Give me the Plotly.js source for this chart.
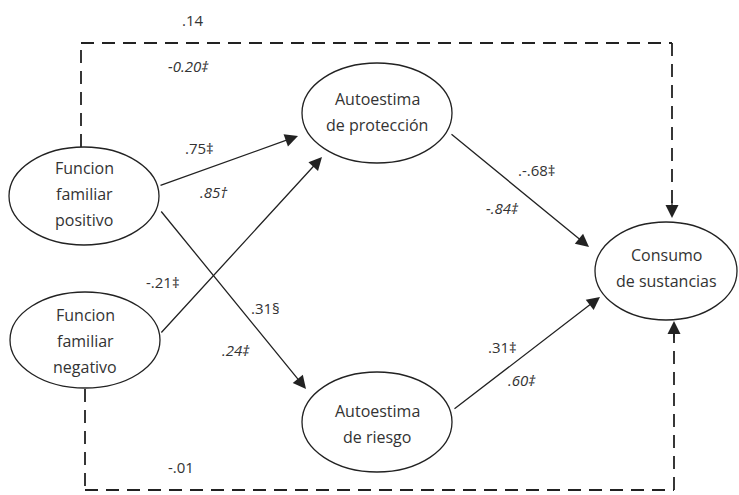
<!DOCTYPE html>
<html><head><meta charset="utf-8">
<script src="https://cdn.plot.ly/plotly-3.0.1.min.js"></script>
<style>html,body{margin:0;padding:0;background:#fff}#chart{width:739px;height:495px}</style>
</head><body><div id="chart"></div>
<script>
// --- data ---
const nodeLabels = [
  "Funcion<br>familiar<br>positivo",
  "Funcion<br>familiar<br>negativo",
  "Autoestima<br>de protección",
  "Autoestima<br>de riesgo",
  "Consumo<br>de sustancias"
];
const pathFrom = [0, 0, 1, 2, 3];
const pathTo   = [2, 3, 2, 4, 4];
const coefUpper = [".75‡", ".31§", "-.21‡", ".-.68‡", ".31‡"];
const coefLower = [".85†", ".24‡", "", "-.84‡", ".60‡"];
const directUpper = [".14"];
const directLower = ["-0.20‡", "-.01"];

// --- layout (positions in pixels) ---
const nodeCx = [84, 85, 377, 377, 666];
const nodeCy = [196, 340, 113, 422, 271];
const nodeRx = [75, 75, 75, 75, 71];
const nodeRy = [49, 48, 50, 50, 49];
const textCy = [194, 341, 112, 424, 268];
const lineGap = 26;
const arrowTail = [[159,186],[160,210],[160,334],[450,133],[453,410]];
const arrowHead = [[298,136],[306,389],[322,157],[589,247],[600,297]];
const upperPos = [[199,148],[265,308],[163,282],[537,170],[502,347]];
const lowerPos = [[214,192],[236,350],null,[502,208],[522,380]];

const ink = "#222";
const shapes = [];
const annotations = [];
const fontFam = "'Open Sans', Lato, sans-serif";
const labelFont = {family:fontFam, size:16, color:"#333"};
const numFont = {family:fontFam, size:15, color:"#333"};

nodeLabels.forEach((lab, i) => {
  shapes.push({type:"circle", xref:"x", yref:"y",
    x0:nodeCx[i]-nodeRx[i], x1:nodeCx[i]+nodeRx[i],
    y0:nodeCy[i]-nodeRy[i], y1:nodeCy[i]+nodeRy[i],
    line:{color:ink, width:1.3}, fillcolor:"rgba(0,0,0,0)"});
  const lines = lab.split("<br>");
  lines.forEach((t, j) => {
    annotations.push({x:nodeCx[i], y:textCy[i] + (j - (lines.length-1)/2)*lineGap, xref:"x", yref:"y", text:t,
      showarrow:false, font:labelFont, align:"center"});
  });
});

pathFrom.forEach((f, k) => {
  annotations.push({x:arrowHead[k][0], y:arrowHead[k][1], ax:arrowTail[k][0], ay:arrowTail[k][1],
    xref:"x", yref:"y", axref:"x", ayref:"y", text:"", showarrow:true,
    arrowhead:2, arrowsize:2, arrowwidth:1.3, arrowcolor:ink, standoff:0, startstandoff:0});
  annotations.push({x:upperPos[k][0], y:upperPos[k][1], xref:"x", yref:"y", text:coefUpper[k],
    showarrow:false, font:numFont});
  if (coefLower[k]) {
    annotations.push({x:lowerPos[k][0], y:lowerPos[k][1], xref:"x", yref:"y", text:"<i>"+coefLower[k]+"</i>",
      showarrow:false, font:numFont});
  }
});

// dashed direct paths
const dash = {color:ink, width:1.8, dash:"13px,8px"};
const dl = (x0,y0,x1,y1) => shapes.push({type:"line", xref:"x", yref:"y", x0, y0, x1, y1, line:dash});
dl(81,147,81,43); dl(81,43,672,43); dl(672,43,672,205);
dl(85,389,85,490); dl(85,490,674,490); dl(674,490,674,334);
annotations.push({x:672, y:218, ax:672, ay:200, xref:"x", yref:"y", axref:"x", ayref:"y", text:"", showarrow:true,
  arrowhead:2, arrowsize:2, arrowwidth:1.3, arrowcolor:ink, standoff:0});
annotations.push({x:674, y:321, ax:674, ay:339, xref:"x", yref:"y", axref:"x", ayref:"y", text:"", showarrow:true,
  arrowhead:2, arrowsize:2, arrowwidth:1.3, arrowcolor:ink, standoff:0});
annotations.push({x:193, y:20, xref:"x", yref:"y", text:directUpper[0], showarrow:false, font:numFont});
annotations.push({x:188, y:66, xref:"x", yref:"y", text:"<i>"+directLower[0]+"</i>", showarrow:false, font:numFont});
annotations.push({x:181, y:467, xref:"x", yref:"y", text:directLower[1], showarrow:false, font:numFont});

Plotly.newPlot("chart", [], {
  width:739, height:495, margin:{l:0,r:0,t:0,b:0},
  paper_bgcolor:"#fff", plot_bgcolor:"#fff",
  xaxis:{range:[0,739], visible:false, fixedrange:true},
  yaxis:{range:[495,0], visible:false, fixedrange:true},
  shapes, annotations, showlegend:false
}, {staticPlot:true});
</script></body></html>
